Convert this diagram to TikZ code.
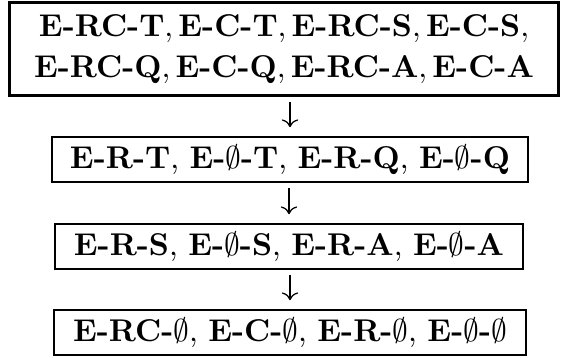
\documentclass[tikz,border=0pt]{standalone}
\usepackage{amsmath}
\usepackage{amssymb}
\usetikzlibrary{arrows.meta}

\begin{document}
\begin{tikzpicture}[x=0.3176pt,y=-0.3176pt]
  \tikzset{level/.style = {shape=rectangle,draw,line width=0.7pt,inner sep=0pt,align=center,minimum height=14.2pt}}
  \tikzset{toplevel/.style = {level,line width=1.1pt,minimum height=29.4pt}}
  \tikzset{edge/.style = {-{Computer Modern Rightarrow},line width=0.4pt,shorten <=1.6pt,shorten >=2.8pt}}

  \useasboundingbox (0,0) rectangle (561,358);

	\node[toplevel,minimum width=174.2pt] (L1) at (284,49) {$\textbf{E-RC-T}, \textbf{E-C-T}, \textbf{E-RC-S}, \textbf{E-C-S},$\\[1pt]
	  $\textbf{E-RC-Q}, \textbf{E-C-Q}, \textbf{E-RC-A}, \textbf{E-C-A}$};
	\node[level,minimum width=151.1pt] (L2) at (290,159.5) {\textbf{E-R-T}, \textbf{E-}$\emptyset$\textbf{-T}, \textbf{E-R-Q}, \textbf{E-}$\emptyset$\textbf{-Q}};
	\node[level,minimum width=148.6pt] (L3) at (289,246.5) {\textbf{E-R-S}, \textbf{E-}$\emptyset$\textbf{-S}, \textbf{E-R-A}, \textbf{E-}$\emptyset$\textbf{-A}};
	\node[level,minimum width=149.8pt] (L4) at (290,332.5) {\textbf{E-RC-}$\emptyset$, \textbf{E-C-}$\emptyset$, \textbf{E-R-}$\emptyset$, \textbf{E-}$\emptyset$\textbf{-}$\emptyset$};

    \foreach \from/\to in {L1/L2, L2/L3, L3/L4}
    \draw[edge] (\from.south -| \to.north) -- (\to.north);

\end{tikzpicture}
\end{document}
